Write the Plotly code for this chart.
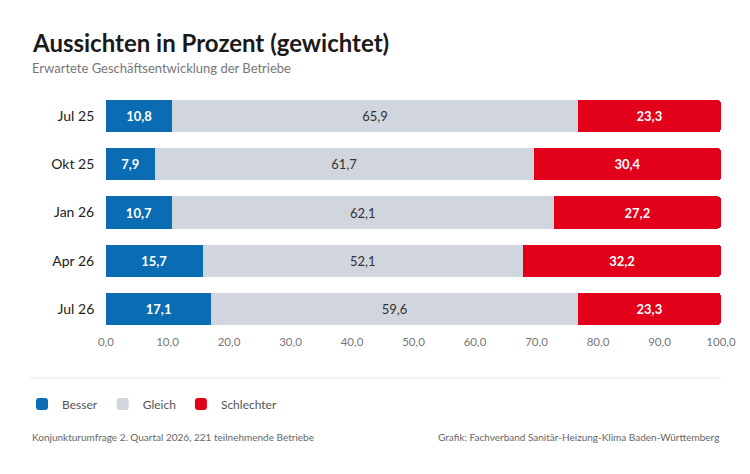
import plotly.graph_objects as go

periods = ["Jul 25", "Okt 25", "Jan 26", "Apr 26", "Jul 26"]
besser = [10.8, 7.9, 10.7, 15.7, 17.1]
gleich = [65.9, 61.7, 62.1, 52.1, 59.6]
schlechter = [23.3, 30.4, 27.2, 32.2, 23.3]

series = [
    ("Besser", besser, "#0a6db3", "white", True),
    ("Gleich", gleich, "#d1d5dd", "#333333", False),
    ("Schlechter", schlechter, "#e3001b", "white", True),
]

fig = go.Figure()
for name, vals, color, tcolor, bold in series:
    labels = [f"{v:.1f}".replace(".", ",") for v in vals]
    if bold:
        labels = [f"<b>{t}</b>" for t in labels]
    fig.add_trace(go.Bar(
        y=periods, x=vals, name=name, orientation="h",
        marker=dict(color=color, line=dict(width=0)),
        text=labels,
        textposition="inside", insidetextanchor="middle",
        textfont=dict(color=tcolor, size=13, family="Lato"),
        hoverinfo="skip",
    ))

# page body has 8px margin; reference pixel -> paper (plot area 106..721, 92..333)
OFF = 8
def px(x): return (x - 106) / 615
def py(y): return (333 - y) / 241

fig.update_layout(
    width=750, height=474,
    barmode="stack", bargap=0.33, barcornerradius=4,
    margin=dict(l=106 - OFF, r=29 + OFF, t=92 - OFF, b=141 + OFF),
    paper_bgcolor="white", plot_bgcolor="white",
    font=dict(family="Lato", color="#333333"),
    separators=",.",
    showlegend=True,
    legend=dict(orientation="h", x=px(22), y=py(404), yanchor="middle",
                xanchor="left", font=dict(size=12, color="#555555"),
                traceorder="normal", itemwidth=30),
    xaxis=dict(range=[0, 100], dtick=10, tickformat=".1f", showgrid=False,
               zeroline=False, showline=False, ticks="",
               tickfont=dict(size=11.5, color="#777777")),
    yaxis=dict(autorange="reversed", showgrid=False, ticks="", ticklen=0,
               tickfont=dict(size=14, color="#222222"), ticksuffix="   "),
    annotations=[
        dict(text="<b>Aussichten in Prozent (gewichtet)</b>", x=px(30), y=py(42),
             xref="paper", yref="paper", xanchor="left", yanchor="middle",
             showarrow=False, font=dict(size=24, color="#1a1a1a")),
        dict(text="Erwartete Geschäftsentwicklung der Betriebe", x=px(30), y=py(68),
             xref="paper", yref="paper", xanchor="left", yanchor="middle",
             showarrow=False, font=dict(size=13, color="#777777")),
        dict(text="Konjunkturumfrage 2. Quartal 2026, 221 teilnehmende Betriebe",
             x=px(30), y=py(437), xref="paper", yref="paper", xanchor="left",
             yanchor="middle", showarrow=False, font=dict(size=10, color="#666666")),
        dict(text="Grafik: Fachverband Sanitär-Heizung-Klima Baden-Württemberg",
             x=px(721), y=py(437), xref="paper", yref="paper", xanchor="right",
             yanchor="middle", showarrow=False, font=dict(size=10, color="#666666")),
    ],
    shapes=[
        dict(type="line", xref="paper", yref="paper", x0=px(30), x1=px(721),
             y0=py(378), y1=py(378), line=dict(color="#e6e6e6", width=1)),
    ],
)

fig.write_html("out.html")
